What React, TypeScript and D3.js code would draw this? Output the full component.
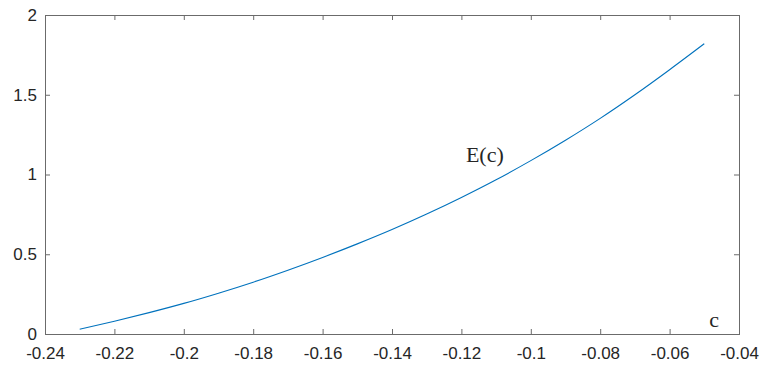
import { useRef, useEffect } from 'react';
import * as d3 from 'd3';

// c values and E(c)
const cValues = [
  -0.23, -0.22, -0.21, -0.2, -0.19, -0.18, -0.17, -0.16, -0.15, -0.14, -0.13, -0.12, -0.11, -0.1,
  -0.09, -0.08, -0.07, -0.06, -0.05,
];
const eValues = [
  0.03, 0.08, 0.134, 0.192, 0.256, 0.325, 0.4, 0.48, 0.565, 0.655, 0.752, 0.856, 0.967, 1.087,
  1.215, 1.352, 1.5, 1.657, 1.82,
];
const xTicks = [-0.24, -0.22, -0.2, -0.18, -0.16, -0.14, -0.12, -0.1, -0.08, -0.06, -0.04];
const yTicks = [0, 0.5, 1, 1.5, 2];
const curveLabel = 'E(c)';
const xLabel = 'c';

const width = 761;
const height = 365;
const margin = { top: 15, right: 22, bottom: 31, left: 45 };

export default function App() {
  const gx = useRef<SVGGElement>(null);
  const gxTop = useRef<SVGGElement>(null);
  const gy = useRef<SVGGElement>(null);
  const gyRight = useRef<SVGGElement>(null);

  const innerWidth = width - margin.left - margin.right;
  const innerHeight = height - margin.top - margin.bottom;

  const x = d3.scaleLinear().domain([-0.24, -0.04]).range([0, innerWidth]);
  const y = d3.scaleLinear().domain([0, 2]).range([innerHeight, 0]);

  const points: [number, number][] = cValues.map((c, i) => [c, eValues[i]]);
  const line = d3
    .line<[number, number]>()
    .x((d) => x(d[0]))
    .y((d) => y(d[1]))
    .curve(d3.curveMonotoneX);

  useEffect(() => {
    const fmt = (d: d3.NumberValue) => `${+d}`;
    const style = (sel: d3.Selection<SVGGElement, unknown, null, undefined>) => {
      sel.select('.domain').remove();
      sel.selectAll('line').attr('stroke', '#6b6b6b');
      sel
        .selectAll('text')
        .attr('fill', '#262626')
        .style('font-family', '"Liberation Sans", Arial, sans-serif')
        .style('font-size', '17px');
    };
    if (gx.current) {
      const s = d3.select(gx.current);
      s.call(d3.axisBottom(x).tickValues(xTicks).tickFormat(fmt).tickSizeInner(-5).tickPadding(13));
      style(s);
    }
    if (gxTop.current) {
      const s = d3.select(gxTop.current);
      s.call(d3.axisTop(x).tickValues(xTicks).tickFormat(() => '').tickSizeInner(-5));
      style(s);
    }
    if (gy.current) {
      const s = d3.select(gy.current);
      s.call(d3.axisLeft(y).tickValues(yTicks).tickFormat(fmt).tickSizeInner(-5).tickPadding(8));
      style(s);
    }
    if (gyRight.current) {
      const s = d3.select(gyRight.current);
      s.call(d3.axisRight(y).tickValues(yTicks).tickFormat(() => '').tickSizeInner(-5));
      style(s);
    }
  }, [x, y]);

  const last = points[points.length - 1];

  return (
    <svg
      width={width}
      height={height}
      style={{ position: 'absolute', top: 0, left: 0, background: '#fff' }}
    >
      <g transform={`translate(${margin.left},${margin.top})`}>
        <rect
          x={0}
          y={0}
          width={innerWidth}
          height={innerHeight}
          fill="none"
          stroke="#6b6b6b"
          strokeWidth={1}
          shapeRendering="crispEdges"
        />
        <g ref={gx} transform={`translate(0,${innerHeight})`} />
        <g ref={gxTop} />
        <g ref={gy} />
        <g ref={gyRight} transform={`translate(${innerWidth},0)`} />
        <path d={line(points)!} fill="none" stroke="#0072BD" strokeWidth={1.1} />
        <text
          x={x(-0.1187)}
          y={y(1.08)}
          fontFamily='"Liberation Serif", "Times New Roman", serif'
          fontSize={22}
          fill="#262626"
        >
          {curveLabel}
        </text>
        <text
          x={x(last[0]) + 5}
          y={innerHeight - 7}
          fontFamily='"Liberation Serif", "Times New Roman", serif'
          fontSize={22}
          fill="#262626"
        >
          {xLabel}
        </text>
      </g>
    </svg>
  );
}
